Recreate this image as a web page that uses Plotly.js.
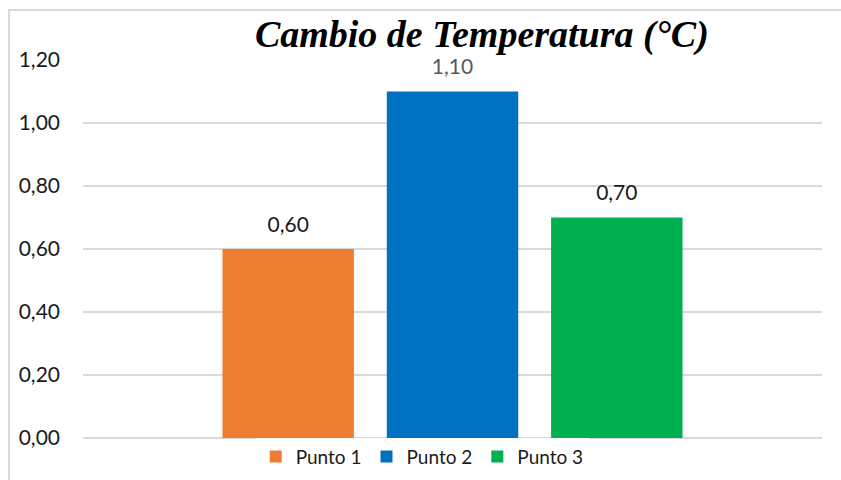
<!DOCTYPE html>
<html>
<head>
<meta charset="utf-8">
<script src="https://cdn.plot.ly/plotly-3.0.1.min.js"></script>
<style>
  html, body { margin: 0; padding: 0; background: #fff; }
  #wrap { position: relative; width: 841px; height: 480px; }
  #chart { width: 841px; height: 480px; }
  #frame { position: absolute; left: 8px; top: 9px; width: 900px; height: 600px;
           border-left: 2px solid #d9d9d9; border-top: 2px solid #d9d9d9; pointer-events: none; }
</style>
</head>
<body>
<div id="wrap">
  <div id="chart"></div>
  <div id="frame"></div>
</div>
<script>
const categories = ['Cambio de Temperatura'];
const seriesNames = ['Punto 1', 'Punto 2', 'Punto 3'];
const seriesValues = [[0.60], [1.10], [0.70]];
const seriesColors = ['#ED7D31', '#0070C0', '#00B050'];
const labelColors = ['#1a1a1a', '#595959', '#1a1a1a'];
const yTickVals = [0, 0.2, 0.4, 0.6, 0.8, 1.0, 1.2];
const fmt = v => v.toFixed(2).replace('.', ',');

const FONT = 'Lato, "Open Sans", sans-serif';
const data = [];
seriesNames.forEach((name, i) => {
  data.push({
    type: 'bar', name: name, x: categories, y: seriesValues[i],
    marker: { color: seriesColors[i] }, hoverinfo: 'skip'
  });
});
seriesNames.forEach((name, i) => {
  data.push({
    type: 'scatter', mode: 'markers+text', x: categories, y: seriesValues[i],
    text: seriesValues[i].map(fmt), textposition: 'top center',
    textfont: { family: FONT, size: 21, color: labelColors[i] },
    marker: { size: 18, color: 'rgba(0,0,0,0)' },
    showlegend: false, hoverinfo: 'skip', cliponaxis: false
  });
});

const layout = {
  width: 841, height: 480,
  margin: { l: 83, r: 19, t: 60, b: 42, autoexpand: false },
  paper_bgcolor: '#ffffff', plot_bgcolor: '#ffffff',
  separators: ',.',
  barmode: 'group', bargap: 0.333, bargroupgap: 0.2,
  scattermode: 'group', scattergap: 0.333,
  showlegend: true,
  title: {
    text: '<i><b>Cambio de Temperatura (°C)</b></i>',
    font: { family: '"Liberation Serif", serif', size: 38, color: '#000' },
    xref: 'container', x: 0.573, xanchor: 'center',
    yref: 'container', y: 0.93, yanchor: 'middle'
  },
  xaxis: {
    type: 'category', range: [-0.5, 0.5], showticklabels: false,
    showgrid: false, zeroline: false, showline: false, ticks: ''
  },
  yaxis: {
    range: [0, 1.2], tickvals: yTickVals, ticktext: yTickVals.map(fmt),
    showgrid: true, gridcolor: '#d9d9d9', gridwidth: 1.5,
    zeroline: true, zerolinecolor: '#d9d9d9', zerolinewidth: 1.5,
    showline: false, ticks: '', ticklabelstandoff: 22,
    tickfont: { family: FONT, size: 21, color: '#1a1a1a' }
  },
  legend: {
    orientation: 'h', x: 0.459, xanchor: 'center',
    yref: 'container', y: 0.088, yanchor: 'top',
    font: { family: FONT, size: 19, color: '#1a1a1a' },
    itemwidth: 30, traceorder: 'normal'
  }
};

Plotly.newPlot('chart', data, layout, { displayModeBar: false, staticPlot: true });
</script>
</body>
</html>
